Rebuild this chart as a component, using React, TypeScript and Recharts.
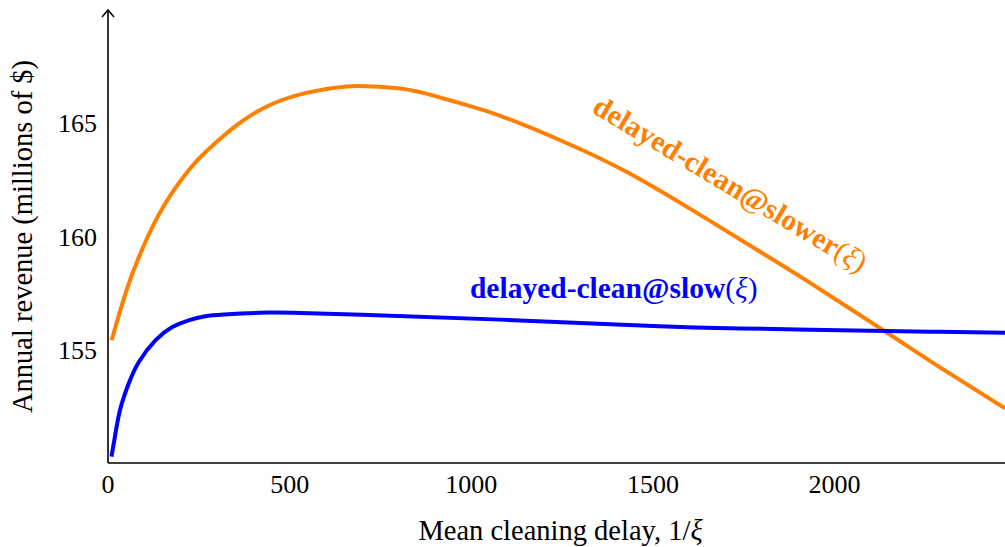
import React from 'react'
import {
  LineChart, Line, XAxis, YAxis, ReferenceDot, Label,
} from 'recharts'

const SERIF = '"Liberation Serif", "Times New Roman", serif'

// orange curve: delayed-clean@slower
const slowerX = [10, 48, 85, 131, 177, 222, 268, 360, 452, 543, 621, 690, 805, 896, 988, 1080, 1245, 1428, 1612, 1795, 1923, 2134, 2290, 2469]
const slowerY = [155.42, 157.48, 159.09, 160.7, 161.95, 162.93, 163.72, 164.98, 165.85, 166.33, 166.56, 166.65, 166.53, 166.22, 165.8, 165.33, 164.25, 162.85, 161.13, 159.33, 158.05, 155.86, 154.22, 152.41]

// blue curve: delayed-clean@slow
const slowX = [9.6, 20.6, 34, 57, 85, 131, 177, 222, 268, 319, 438, 530, 700, 1080, 1500, 1740, 2142, 2290, 2469]
const slowY = [150.28, 151.31, 152.4, 153.51, 154.46, 155.42, 156.0, 156.3, 156.48, 156.56, 156.64, 156.62, 156.55, 156.33, 156.05, 155.94, 155.83, 155.79, 155.75]

const xTicks = [0, 500, 1000, 1500, 2000]
const yTicks = [155, 160, 165]

const slowerData = slowerX.map((x, i) => ({ x, y: slowerY[i] }))
const slowData = slowX.map((x, i) => ({ x, y: slowY[i] }))

const ORANGE = '#ff8000'
const BLUE = '#0000ff'

const curveLabel = (name: string, color: string, angle: number) => (props: any) => {
  const { cx, cy } = props
  return (
    <text
      x={cx}
      y={cy}
      fill={color}
      fontFamily={SERIF}
      fontSize={29.5}
      textAnchor="middle"
      transform={angle ? `rotate(${angle} ${cx} ${cy})` : undefined}
    >
      <tspan fontWeight="bold">{name}</tspan>
      <tspan>(</tspan>
      <tspan fontStyle="italic">ξ</tspan>
      <tspan>)</tspan>
    </text>
  )
}

const ArrowHead = (props: any) => {
  const { cx, cy } = props
  return (
    <path
      d={`M${cx - 6},${cy + 7} L${cx},${cy} L${cx + 6},${cy + 7}`}
      fill="none"
      stroke="#000"
      strokeWidth={1.5}
    />
  )
}

const XTitle = (props: any) => {
  const { x, y, width, height } = props.viewBox
  return (
    <text x={x + width / 2 + 4} y={y + height - 7} textAnchor="middle" fill="#000" fontFamily={SERIF} fontSize={28.5}>
      Mean cleaning delay, 1/<tspan fontStyle="italic">ξ</tspan>
    </text>
  )
}

export default function App() {
  return (
    <div style={{ position: 'absolute', left: 0, top: 0, background: '#fff' }}>
      <LineChart width={1005} height={547} margin={{ top: 10, right: 0, bottom: 0, left: 0 }}>
        <XAxis
          dataKey="x"
          type="number"
          domain={[0, 2469]}
          ticks={xTicks}
          allowDataOverflow
          tickLine={false}
          tickMargin={6}
          height={84}
          axisLine={{ stroke: '#000', strokeWidth: 1.6 }}
          tick={{ fill: '#000', fontSize: 26, fontFamily: SERIF }}
        >
          <Label content={XTitle} />
        </XAxis>
        <YAxis
          type="number"
          domain={[150, 170]}
          ticks={yTicks}
          allowDataOverflow
          width={108}
          tickLine={false}
          tickMargin={5}
          axisLine={{ stroke: '#000', strokeWidth: 1.6 }}
          tick={{ fill: '#000', fontSize: 26, fontFamily: SERIF }}
        >
          <Label
            value="Annual revenue (millions of $)"
            angle={-90}
            position="insideLeft"
            offset={22}
            style={{ fill: '#000', fontSize: 28.5, fontFamily: SERIF, textAnchor: 'middle' }}
          />
        </YAxis>
        <Line
          data={slowerData}
          dataKey="y"
          type="natural"
          stroke={ORANGE}
          strokeWidth={4}
          dot={false}
          isAnimationActive={false}
        />
        <Line
          data={slowData}
          dataKey="y"
          type="natural"
          stroke={BLUE}
          strokeWidth={4}
          dot={false}
          isAnimationActive={false}
        />
        <ReferenceDot x={0} y={170} ifOverflow="visible" shape={ArrowHead} />
        <ReferenceDot x={1699} y={161.94} ifOverflow="visible" shape={curveLabel('delayed-clean@slower', ORANGE, 31)} />
        <ReferenceDot x={1392} y={157.27} ifOverflow="visible" shape={curveLabel('delayed-clean@slow', BLUE, 0)} />
      </LineChart>
    </div>
  )
}
